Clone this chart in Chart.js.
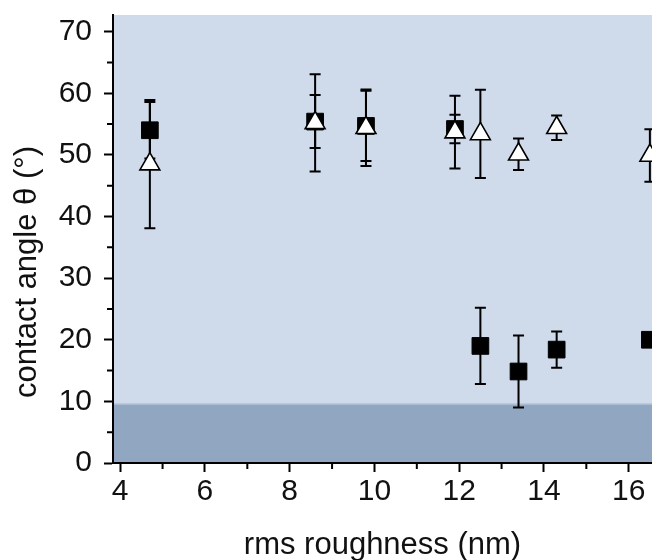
<!DOCTYPE html>
<html>
<head>
<meta charset="utf-8">
<script src="https://cdn.jsdelivr.net/npm/chart.js@4.4.1/dist/chart.umd.min.js"></script>
<style>
    html, body { margin: 0; padding: 0; background: #fff; overflow: hidden; }
    #wrap { position: absolute; left: 0; top: 0; width: 652px; height: 560px; }
</style>
</head>
<body>
<div id="wrap"><canvas id="angleChart"></canvas></div>
<script>
// 数据
const roughness = [4.7, 8.6, 9.8, 11.9, 12.5, 13.4, 14.3, 16.5];
const angleSquare = [54.0, 55.4, 54.7, 54.2, 19.0, 14.85, 18.4, 20.0];
const errSquare = [4.6, 4.3, 5.7, 2.3, 6.2, 5.85, 2.95, 1.0];
const angleTriangle = [48.5, 55.2, 54.4, 53.7, 53.4, 50.1, 54.4, 49.9];
const errTriangle = [10.4, 7.9, 6.2, 5.9, 7.15, 2.55, 2.0, 4.25];
const xTicks = [4, 6, 8, 10, 12, 14, 16];
const xMinor = [5, 7, 9, 11, 13, 15];
const yTicks = [0, 10, 20, 30, 40, 50, 60, 70];
const yMinor = [5, 15, 25, 35, 45, 55, 65];
const bandTop = 9.5;
const yTitle = 'contact angle θ (°)';

const FONT = 'Liberation Sans, Arial, sans-serif';

// 背景 + 深色条带
const bgPlugin = {
    id: 'bg',
    beforeDraw(chart) {
        const { ctx, chartArea: a, scales: { y } } = chart;
        ctx.save();
        ctx.fillStyle = '#cfdbeb';
        ctx.fillRect(a.left, a.top, a.right - a.left, a.bottom - a.top);
        const yb = y.getPixelForValue(bandTop);
        ctx.fillStyle = '#91a6c0';
        ctx.fillRect(a.left, yb, a.right - a.left, a.bottom - yb);
        ctx.fillStyle = '#a9bad0';
        ctx.fillRect(a.left, yb - 1, a.right - a.left, 1);
        ctx.restore();
    }
};

// 误差棒
const errorBarPlugin = {
    id: 'errorBars',
    beforeDatasetsDraw(chart) {
        const { ctx, chartArea: a, scales: { x, y } } = chart;
        ctx.save();
        ctx.beginPath();
        ctx.rect(a.left, a.top, a.right - a.left, a.bottom - a.top);
        ctx.clip();
        ctx.strokeStyle = '#000';
        ctx.lineWidth = 2;
        chart.data.datasets.forEach(ds => {
            ds.data.forEach((p, i) => {
                const e = ds.errors[i];
                const px = x.getPixelForValue(p.x);
                const y1 = y.getPixelForValue(p.y + e);
                const y2 = y.getPixelForValue(p.y - e);
                ctx.beginPath();
                ctx.moveTo(px, y1); ctx.lineTo(px, y2);
                ctx.moveTo(px - 5.5, y1); ctx.lineTo(px + 5.5, y1);
                ctx.moveTo(px - 5.5, y2); ctx.lineTo(px + 5.5, y2);
                ctx.stroke();
            });
        });
        ctx.restore();
    }
};

// 次刻度 + y轴标题
const minorTickPlugin = {
    id: 'minorTicks',
    afterDraw(chart) {
        const { ctx, chartArea: a, scales: { x, y } } = chart;
        ctx.save();
        ctx.strokeStyle = '#000';
        ctx.lineWidth = 2;
        ctx.beginPath();
        xMinor.forEach(v => {
            const px = x.getPixelForValue(v);
            ctx.moveTo(px, a.bottom); ctx.lineTo(px, a.bottom + 6);
        });
        yMinor.forEach(v => {
            const py = y.getPixelForValue(v);
            ctx.moveTo(a.left, py); ctx.lineTo(a.left - 6, py);
        });
        ctx.stroke();

        // y轴标题 (参考图中略偏下)
        ctx.translate(27, y.getPixelForValue(31));
        ctx.rotate(-Math.PI / 2);
        ctx.fillStyle = '#111';
        ctx.font = '31px ' + FONT;
        ctx.textAlign = 'center';
        ctx.textBaseline = 'middle';
        ctx.fillText(yTitle, 0, 0);
        ctx.restore();
    }
};

const toPoints = (ys) => roughness.map((v, i) => ({ x: v, y: ys[i] }));

new Chart(document.getElementById('angleChart'), {
    type: 'scatter',
    data: {
        datasets: [{
            label: 'triangle',
            data: toPoints(angleTriangle),
            errors: errTriangle,
            pointStyle: 'triangle',
            pointRadius: 11.5,
            pointHoverRadius: 11.5,
            backgroundColor: '#ffffff',
            borderColor: '#000',
            borderWidth: 1.6
        }, {
            label: 'square',
            data: toPoints(angleSquare),
            errors: errSquare,
            pointStyle: 'rect',
            pointRadius: 11.8,
            pointHoverRadius: 11.8,
            backgroundColor: '#000',
            borderColor: '#000',
            borderWidth: 1
        }]
    },
    options: {
        responsive: true,
        maintainAspectRatio: false,
        animation: false,
        layout: { autoPadding: false, padding: { top: 15, left: 0, right: 0, bottom: 0 } },
        plugins: {
            legend: { display: false },
            tooltip: { enabled: false }
        },
        scales: {
            x: {
                type: 'linear',
                min: 3.83,
                max: 16.55,
                afterBuildTicks: s => { s.ticks = xTicks.map(v => ({ value: v })); },
                afterFit: s => { s.height = 97; s.paddingLeft = 0; s.paddingRight = 0; },
                border: { color: '#000', width: 2 },
                grid: { drawOnChartArea: false, tickLength: 9, tickColor: '#000', tickWidth: 2 },
                ticks: { color: '#111', padding: 2, maxRotation: 0, font: { family: FONT, size: 30 } },
                title: {
                    display: true,
                    text: 'rms roughness (nm)',
                    color: '#111',
                    padding: { top: 0, bottom: -4 },
                    font: { family: FONT, size: 31 }
                }
            },
            y: {
                min: 0,
                max: 72.7,
                afterBuildTicks: s => { s.ticks = yTicks.map(v => ({ value: v })); },
                afterFit: s => { s.width = 113; s.paddingTop = 0; s.paddingBottom = 0; },
                border: { color: '#000', width: 2 },
                grid: { drawOnChartArea: false, tickLength: 9, tickColor: '#000', tickWidth: 2 },
                ticks: { color: '#111', padding: 12, font: { family: FONT, size: 30 } }
            }
        }
    },
    plugins: [bgPlugin, errorBarPlugin, minorTickPlugin]
});
</script>
</body>
</html>
